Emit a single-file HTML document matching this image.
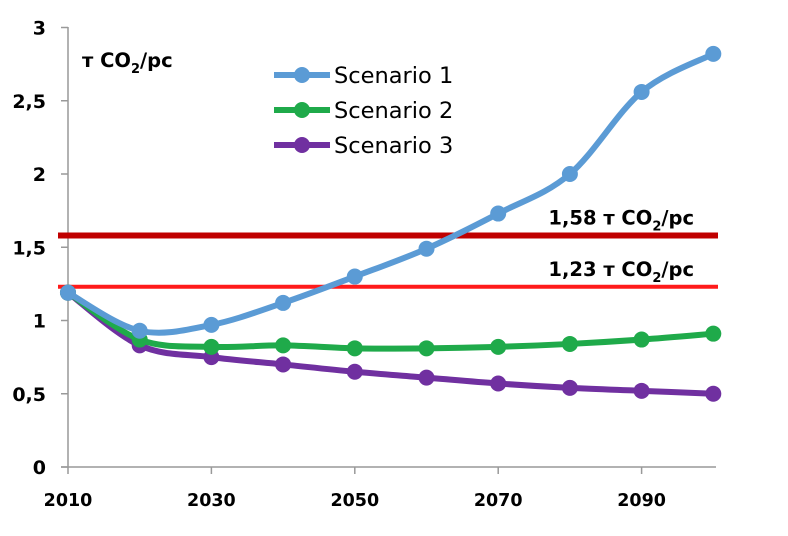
<!DOCTYPE html>
<html><head><meta charset="utf-8"><style>
body{margin:0;background:#fff;}
svg{display:block;font-family:"DejaVu Sans",Verdana,sans-serif;}
</style></head><body>
<svg id="chart" width="788" height="536">
<g id="axes"></g><g id="refs"></g><g id="series"></g><g id="legend"></g>
</svg>
<script>
const years=[2010,2020,2030,2040,2050,2060,2070,2080,2090,2100];
const s1=[1.19,0.93,0.97,1.12,1.30,1.49,1.73,2.00,2.56,2.82];
const s2=[1.19,0.87,0.82,0.83,0.81,0.81,0.82,0.84,0.87,0.91];
const s3=[1.19,0.83,0.75,0.70,0.65,0.61,0.57,0.54,0.52,0.50];
const yTicks=[0,0.5,1,1.5,2,2.5,3];
const yTickLabels=["0","0,5","1","1,5","2","2,5","3"];
const xTicks=[2010,2030,2050,2070,2090];
const refValues=[1.58,1.23];
const refLabels=["1,58 т CO₂/pc","1,23 т CO₂/pc"];
const seriesNames=["Scenario 1","Scenario 2","Scenario 3"];

const NS="http://www.w3.org/2000/svg";
const X=v=>68+(v-2010)*7.17;
const Y=v=>467-v*146.5;
function mk(p,t,a){const e=document.createElementNS(NS,t);for(const k in a)e.setAttribute(k,a[k]);p.appendChild(e);return e;}
const axes=document.getElementById('axes');
let e=mk(axes,'line',{x1:68,y1:27,x2:68,y2:467,stroke:'#999','stroke-width':1.5});

e=mk(axes,'line',{x1:61,y1:467,x2:716,y2:467,stroke:'#999','stroke-width':1.5});

yTicks.forEach((v,i)=>{
 mk(axes,'line',{x1:61,y1:Y(v),x2:68,y2:Y(v),stroke:'#999','stroke-width':1.5});
 const t=mk(axes,'text',{x:46,y:Y(v)+7,'text-anchor':'end','font-size':19,'font-weight':'bold'});
 t.textContent=yTickLabels[i];
 
});
xTicks.forEach(v=>{
 mk(axes,'line',{x1:X(v),y1:467,x2:X(v),y2:474,stroke:'#999','stroke-width':1.5});
 const t=mk(axes,'text',{x:X(v),y:506,'text-anchor':'middle','font-size':17.5,'font-weight':'bold'});
 t.textContent=v;
 
});
let yt=mk(axes,'text',{x:82,y:67,'font-size':19.5,'font-weight':'bold'});
yt.innerHTML='т CO<tspan font-size="13" dy="6">2</tspan><tspan dy="-6">/pc</tspan>';


const refs=document.getElementById('refs');
const refColors=['#c00000','#ff1a1a'];
refValues.forEach((v,i)=>{
 const l=mk(refs,'line',{x1:58,y1:Y(v),x2:718,y2:Y(v),stroke:refColors[i],'stroke-width':i?4:6});
 
 const t=mk(refs,'text',{x:694,y:Y(v)-11,'text-anchor':'end','font-size':19.5,'font-weight':'bold'});
 const parts=refLabels[i].split('₂');
 t.innerHTML=parts[0]+'<tspan font-size="13" dy="6">2</tspan><tspan dy="-6">'+parts[1]+'</tspan>';
 
});

function smooth(pts){
 let d='M'+pts[0][0]+','+pts[0][1];
 for(let i=0;i<pts.length-1;i++){
  const p0=pts[i-1]||pts[i],p1=pts[i],p2=pts[i+1],p3=pts[i+2]||p2;
  const c1=[p1[0]+(p2[0]-p0[0])/6,p1[1]+(p2[1]-p0[1])/6];
  const c2=[p2[0]-(p3[0]-p1[0])/6,p2[1]-(p3[1]-p1[1])/6];
  d+=' C'+c1+' '+c2+' '+p2;
 }
 return d;
}
const series=document.getElementById('series');
const data=[s1,s2,s3];const colors=['#5b9bd5','#1faa4a','#7030a0'];
[2,1,0].forEach(k=>{
 const pts=years.map((y,i)=>[X(y),Y(data[k][i])]);
 const p=mk(series,'path',{d:smooth(pts),fill:'none',stroke:colors[k],'stroke-width':6});
 
 pts.forEach(q=>{
  const c=mk(series,'circle',{cx:q[0],cy:q[1],r:8,fill:colors[k]});
  
 });
});
const legend=document.getElementById('legend');
seriesNames.forEach((n,i)=>{
 const y=75+i*35;
 const g=mk(legend,'g',{});
 
 mk(g,'line',{x1:274,y1:y,x2:330,y2:y,stroke:colors[i],'stroke-width':6});
 mk(g,'circle',{cx:302,cy:y,r:8,fill:colors[i]});
 const t=mk(g,'text',{x:334,y:y+8,'font-size':22.5});t.textContent=n;
});
</script>
</body></html>
